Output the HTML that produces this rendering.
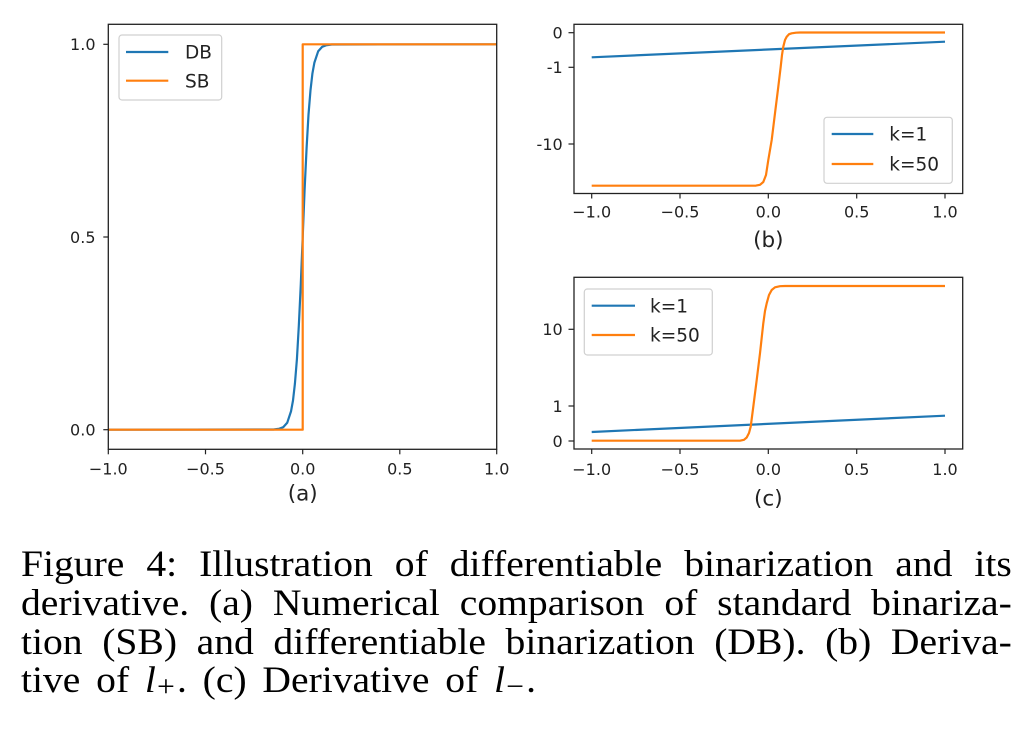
<!DOCTYPE html>
<html>
<head>
<meta charset="utf-8">
<style>
  html, body { margin:0; padding:0; background:#fff; }
  body { width:1024px; height:748px; position:relative; overflow:hidden; }
  svg { position:absolute; left:0; top:0; }
  .cap {
    position:absolute; left:20.7px;
    font-family:"Liberation Serif", "Times New Roman", serif;
    font-size:37px; line-height:40px; color:#000;
    white-space:normal;
    transform:scaleX(1.07); transform-origin:0 0;
  }
  .just { width:926px; text-align:justify; text-align-last:justify; }
  .cap i { font-style:italic; }
  .cap sub { font-size:0.8em; vertical-align:-0.15em; line-height:0; margin-left:1px; margin-right:2px; }
</style>
</head>
<body>
<svg width="1024" height="748" viewBox="0 0 1024 748" xmlns="http://www.w3.org/2000/svg" font-family="DejaVu Sans, sans-serif">
  <!-- ===== Panel (a) ===== -->
  <g fill="none" stroke-linejoin="round" stroke-linecap="butt">
    <polyline stroke="#1f77b4" stroke-width="2.2" points="108.3,429.7 273.6,429.5 279.4,428.7 283.3,427.1 287.2,422.8 291.0,411.4 293.0,400.5 294.9,383.8 296.9,359.4 298.8,326.1 300.8,284.2 302.7,237.0 304.6,189.8 306.6,147.9 308.5,114.6 310.5,90.2 312.4,73.6 314.4,62.6 318.2,51.2 322.1,46.9 326.0,45.3 331.8,44.5 496.7,44.3"/>
    <polyline stroke="#ff7f0e" stroke-width="2.2" points="108.3,429.7 302.7,429.7 302.7,44.3 496.7,44.3"/>
  </g>
  <rect x="108.3" y="24.3" width="388.4" height="425" fill="none" stroke="#222" stroke-width="1.3"/>
  <g stroke="#222" stroke-width="1.2">
    <line x1="103.3" y1="44.3" x2="108.3" y2="44.3"/>
    <line x1="103.3" y1="237" x2="108.3" y2="237"/>
    <line x1="103.3" y1="429.7" x2="108.3" y2="429.7"/>
    <line x1="108.3" y1="449.3" x2="108.3" y2="454.3"/>
    <line x1="205.5" y1="449.3" x2="205.5" y2="454.3"/>
    <line x1="302.7" y1="449.3" x2="302.7" y2="454.3"/>
    <line x1="399.8" y1="449.3" x2="399.8" y2="454.3"/>
    <line x1="496.7" y1="449.3" x2="496.7" y2="454.3"/>
  </g>
  <g font-size="16" fill="#222">
    <text x="95.5" y="50.1" text-anchor="end">1.0</text>
    <text x="95.5" y="242.8" text-anchor="end">0.5</text>
    <text x="95.5" y="435.5" text-anchor="end">0.0</text>
    <text x="108.3" y="474.3" text-anchor="middle">−1.0</text>
    <text x="205.5" y="474.3" text-anchor="middle">−0.5</text>
    <text x="302.7" y="474.3" text-anchor="middle">0.0</text>
    <text x="399.8" y="474.3" text-anchor="middle">0.5</text>
    <text x="496.7" y="474.3" text-anchor="middle">1.0</text>
  </g>
  <text x="302.7" y="500.5" text-anchor="middle" font-size="21.5" fill="#222">(a)</text>
  <rect x="119" y="35" width="102.7" height="65" rx="3" fill="#fff" fill-opacity="0.8" stroke="#d0d0d0" stroke-width="1.2"/>
  <line x1="126" y1="52" x2="168.3" y2="52" stroke="#1f77b4" stroke-width="2.2"/>
  <line x1="126" y1="80.7" x2="168.3" y2="80.7" stroke="#ff7f0e" stroke-width="2.2"/>
  <text x="185" y="58.6" font-size="18.5" fill="#222">DB</text>
  <text x="185" y="87.4" font-size="18.5" fill="#222">SB</text>

  <!-- ===== Panel (b) ===== -->
  <g fill="none" stroke-linejoin="round">
    <line x1="591.7" y1="57.3" x2="945" y2="41.7" stroke="#1f77b4" stroke-width="2.2"/>
    <polyline stroke="#ff7f0e" stroke-width="2.2" points="591.7,185.7 756,185.6 760,184.8 763.3,182 766,175 768.3,160 771.7,140 775,113.3 778.3,86.7 780.7,66.7 782,55 783.3,46.7 785,40 786.7,36.7 789,34.2 791.7,33.3 796,32.7 800,32.5 945,32.5"/>
  </g>
  <rect x="574" y="24.3" width="388.7" height="169.2" fill="none" stroke="#222" stroke-width="1.3"/>
  <g stroke="#222" stroke-width="1.2">
    <line x1="568.5" y1="32.7" x2="574" y2="32.7"/>
    <line x1="568.5" y1="67.3" x2="574" y2="67.3"/>
    <line x1="568.5" y1="144" x2="574" y2="144"/>
    <line x1="591.7" y1="193.5" x2="591.7" y2="198.5"/>
    <line x1="680" y1="193.5" x2="680" y2="198.5"/>
    <line x1="768.3" y1="193.5" x2="768.3" y2="198.5"/>
    <line x1="856.7" y1="193.5" x2="856.7" y2="198.5"/>
    <line x1="945" y1="193.5" x2="945" y2="198.5"/>
  </g>
  <g font-size="16" fill="#222">
    <text x="562.7" y="38.5" text-anchor="end">0</text>
    <text x="562.7" y="73.1" text-anchor="end">-1</text>
    <text x="562.7" y="149.8" text-anchor="end">-10</text>
    <text x="591.7" y="217.5" text-anchor="middle">−1.0</text>
    <text x="680" y="217.5" text-anchor="middle">−0.5</text>
    <text x="768.3" y="217.5" text-anchor="middle">0.0</text>
    <text x="856.7" y="217.5" text-anchor="middle">0.5</text>
    <text x="945" y="217.5" text-anchor="middle">1.0</text>
  </g>
  <text x="768.3" y="247" text-anchor="middle" font-size="21.5" fill="#222">(b)</text>
  <rect x="824" y="117.3" width="128.3" height="66" rx="3" fill="#fff" fill-opacity="0.8" stroke="#d0d0d0" stroke-width="1.2"/>
  <line x1="831.7" y1="134" x2="873.3" y2="134" stroke="#1f77b4" stroke-width="2.2"/>
  <line x1="831.7" y1="164" x2="873.3" y2="164" stroke="#ff7f0e" stroke-width="2.2"/>
  <text x="889.3" y="140.7" font-size="18.5" fill="#222">k=1</text>
  <text x="889.3" y="170.7" font-size="18.5" fill="#222">k=50</text>

  <!-- ===== Panel (c) ===== -->
  <g fill="none" stroke-linejoin="round">
    <line x1="591.7" y1="432" x2="945" y2="415.7" stroke="#1f77b4" stroke-width="2.2"/>
    <polyline stroke="#ff7f0e" stroke-width="2.2" points="591.7,440.7 740,440.7 744,439.8 746.7,437.5 749,433 750.7,426.7 753.3,406.7 756.7,380 760,353.3 763.3,323.3 765,311 766.7,303.3 769,295 771.7,290 775,287.3 780,286.2 785,286 945,286"/>
  </g>
  <rect x="574" y="277.3" width="388.7" height="171.7" fill="none" stroke="#222" stroke-width="1.3"/>
  <g stroke="#222" stroke-width="1.2">
    <line x1="568.5" y1="329.3" x2="574" y2="329.3"/>
    <line x1="568.5" y1="406" x2="574" y2="406"/>
    <line x1="568.5" y1="441" x2="574" y2="441"/>
    <line x1="591.7" y1="449" x2="591.7" y2="454"/>
    <line x1="680" y1="449" x2="680" y2="454"/>
    <line x1="768.3" y1="449" x2="768.3" y2="454"/>
    <line x1="856.7" y1="449" x2="856.7" y2="454"/>
    <line x1="945" y1="449" x2="945" y2="454"/>
  </g>
  <g font-size="16" fill="#222">
    <text x="562.7" y="335.1" text-anchor="end">10</text>
    <text x="562.7" y="411.8" text-anchor="end">1</text>
    <text x="562.7" y="446.8" text-anchor="end">0</text>
    <text x="591.7" y="474.8" text-anchor="middle">−1.0</text>
    <text x="680" y="474.8" text-anchor="middle">−0.5</text>
    <text x="768.3" y="474.8" text-anchor="middle">0.0</text>
    <text x="856.7" y="474.8" text-anchor="middle">0.5</text>
    <text x="945" y="474.8" text-anchor="middle">1.0</text>
  </g>
  <text x="768.3" y="505.5" text-anchor="middle" font-size="21.5" fill="#222">(c)</text>
  <rect x="584.3" y="289" width="128" height="66" rx="3" fill="#fff" fill-opacity="0.8" stroke="#d0d0d0" stroke-width="1.2"/>
  <line x1="591.7" y1="305.7" x2="635" y2="305.7" stroke="#1f77b4" stroke-width="2.2"/>
  <line x1="591.7" y1="335" x2="635" y2="335" stroke="#ff7f0e" stroke-width="2.2"/>
  <text x="650" y="312.4" font-size="18.5" fill="#222">k=1</text>
  <text x="650" y="341.7" font-size="18.5" fill="#222">k=50</text>
</svg>

<div class="cap just" style="top:544.8px;">Figure 4: Illustration of differentiable binarization and its</div>
<div class="cap just" style="top:583.5px;">derivative. (a) Numerical comparison of standard binariza-</div>
<div class="cap just" style="top:622.5px;">tion (SB) and differentiable binarization (DB). (b) Deriva-</div>
<div class="cap" style="top:660.8px; word-spacing:5.5px;">tive of <i>l</i><sub>+</sub>. (c) Derivative of <i>l</i><sub>−</sub>.</div>
</body>
</html>
